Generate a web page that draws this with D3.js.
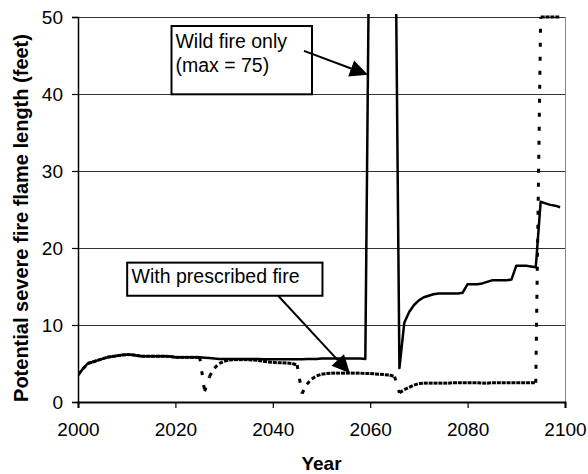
<!DOCTYPE html>
<html>
<head>
<meta charset="utf-8">
<script src="https://cdn.jsdelivr.net/npm/d3@7"></script>
<style>
  body { margin: 0; background: #fff; }
  svg text { font-family: Arial, "Liberation Sans", sans-serif; fill: #000; }
</style>
</head>
<body>
<div id="chart"></div>
<script>
// years on the x axis, one value per year
var years = d3.range(2000, 2100);

var wildFire = [
  3.5, 4.3, 5.0, 5.2, 5.4, 5.6, 5.8, 5.9, 6.0, 6.1,
  6.15, 6.15, 6.05, 5.95, 5.95, 5.95, 5.95, 5.95, 5.95, 5.9,
  5.8, 5.8, 5.8, 5.8, 5.8, 5.8, 5.75, 5.7, 5.65, 5.6,
  5.6, 5.6, 5.6, 5.6, 5.6, 5.6, 5.6, 5.6, 5.55, 5.55,
  5.55, 5.55, 5.55, 5.55, 5.55, 5.55, 5.55, 5.6, 5.6, 5.6,
  5.65, 5.65, 5.65, 5.65, 5.65, 5.65, 5.65, 5.65, 5.65, 5.6,
  75, 75, 75, 75, 75, 75, 4.4, 10.3, 11.7, 12.6,
  13.2, 13.6, 13.8, 14.0, 14.1, 14.1, 14.1, 14.1, 14.1, 14.2,
  15.3, 15.3, 15.3, 15.4, 15.6, 15.8, 15.8, 15.8, 15.8, 15.9,
  17.7, 17.7, 17.7, 17.6, 17.5, 26.0, 25.8, 25.6, 25.5, 25.3
];

var prescribedFire = [
  3.5, 4.3, 5.0, 5.2, 5.4, 5.6, 5.8, 5.9, 6.0, 6.1,
  6.15, 6.15, 6.05, 5.95, 5.95, 5.95, 5.95, 5.95, 5.95, 5.9,
  5.8, 5.8, 5.8, 5.8, 5.8, 5.8, 1.4, 3.3, 4.4, 5.0,
  5.3, 5.45, 5.5, 5.5, 5.5, 5.5, 5.45, 5.4, 5.3, 5.2,
  5.15, 5.1, 5.1, 5.05, 5.0, 4.8, 1.1, 2.3, 3.0, 3.4,
  3.6, 3.7, 3.75, 3.75, 3.75, 3.75, 3.75, 3.75, 3.75, 3.7,
  3.7, 3.65, 3.6, 3.55, 3.5, 3.3, 1.2, 1.6, 1.9, 2.2,
  2.4, 2.45, 2.45, 2.45, 2.45, 2.45, 2.45, 2.5, 2.5, 2.5,
  2.5, 2.5, 2.5, 2.45, 2.45, 2.5, 2.5, 2.5, 2.5, 2.5,
  2.5, 2.5, 2.5, 2.5, 2.5, 50, 50, 50, 50, 50
];

var xTicks = [2000, 2020, 2040, 2060, 2080, 2100];
var yTicks = [0, 10, 20, 30, 40, 50];

let margin = {top: 17, right: 23, bottom: 72, left: 78}
  , width = 588 - margin.left - margin.right
  , height = 474 - margin.top - margin.bottom;

let x = d3.scaleLinear().domain([2000, 2100]).range([0, width]);
let y = d3.scaleLinear().domain([0, 50]).range([height, 0]);

let svg = d3.select('#chart').append('svg')
    .attr('width', 588)
    .attr('height', 474);

let g = svg.append('g')
    .attr('transform', 'translate(' + margin.left + ',' + margin.top + ')');

// gridlines
g.append('g')
    .selectAll('line')
    .data(yTicks.filter(function (d) { return d > 0; }))
    .enter().append('line')
    .attr('x1', 0).attr('x2', width)
    .attr('y1', function (d) { return y(d) + 0.5; })
    .attr('y2', function (d) { return y(d) + 0.5; })
    .attr('stroke', '#333')
    .attr('stroke-width', 1);

// right border of plot area
g.append('line')
    .attr('x1', width + 0.5).attr('x2', width + 0.5)
    .attr('y1', 0).attr('y2', height)
    .attr('stroke', '#888');

// y axis
let yAxis = d3.axisLeft(y).tickValues(yTicks).tickSize(6).tickPadding(9);
let ya = g.append('g').call(yAxis);
ya.select('.domain').attr('stroke', '#000').attr('stroke-width', 1.5);
ya.selectAll('.tick line').attr('stroke', '#000').attr('stroke-width', 1.2);
ya.selectAll('.tick text').style('font-size', '19px');

// x axis
let xAxis = d3.axisBottom(x).tickValues(xTicks).tickFormat(d3.format('d')).tickSize(6).tickPadding(15);
let xa = g.append('g').attr('transform', 'translate(0,' + height + ')').call(xAxis);
xa.select('.domain').attr('stroke', '#000').attr('stroke-width', 2);
xa.selectAll('.tick line').attr('stroke', '#000').attr('stroke-width', 1.2);
xa.selectAll('.tick text').style('font-size', '19px');

// axis titles
svg.append('text')
    .attr('text-anchor', 'middle')
    .attr('x', margin.left + width / 2)
    .attr('y', 470)
    .style('font-size', '19px')
    .style('font-weight', 'bold')
    .text('Year');

svg.append('text')
    .attr('text-anchor', 'middle')
    .attr('transform', 'translate(27.5,218) rotate(-90)')
    .style('font-size', '20px')
    .style('font-weight', 'bold')
    .text('Potential severe fire flame length (feet)');

// series
svg.append('defs').append('clipPath').attr('id', 'plotClip')
  .append('rect')
    .attr('x', 0).attr('y', -3)
    .attr('width', width + 1).attr('height', height + 3);

let series = g.append('g').attr('clip-path', 'url(#plotClip)');

let pfPoints = years.map(function (yr, i) { return [yr, prescribedFire[i]]; });
let wfPoints = years.map(function (yr, i) { return [yr, wildFire[i]]; });

// dashed line, dash pattern restarts on every segment
series.selectAll('.pf-seg')
    .data(d3.pairs(pfPoints))
    .enter().append('line')
    .attr('class', 'pf-seg')
    .attr('x1', function (d) { return x(d[0][0]); })
    .attr('y1', function (d) { return y(d[0][1]); })
    .attr('x2', function (d) { return x(d[1][0]); })
    .attr('y2', function (d) { return y(d[1][1]); })
    .attr('stroke', '#000')
    .attr('stroke-width', 3)
    .attr('stroke-dasharray', '4,10');

let line = d3.line()
    .x(function (d) { return x(d[0]); })
    .y(function (d) { return y(d[1]); });

series.append('path')
    .datum(wfPoints)
    .attr('d', line)
    .attr('fill', 'none')
    .attr('stroke', '#000')
    .attr('stroke-width', 2.5)
    .attr('stroke-linejoin', 'round');

// annotations (positions in data units)
let drawArrow = (from, to) => {
    let x1 = x(from[0]), y1 = y(from[1]), x2 = x(to[0]), y2 = y(to[1]);
    let ang = Math.atan2(y2 - y1, x2 - x1);
    let len = 18, half = 8.5;
    let bx = x2 - len * Math.cos(ang), by = y2 - len * Math.sin(ang);
    g.append('line')
        .attr('x1', x1).attr('y1', y1)
        .attr('x2', bx).attr('y2', by)
        .attr('stroke', '#000').attr('stroke-width', 2);
    let p1 = [bx + half * Math.sin(ang), by - half * Math.cos(ang)];
    let p2 = [bx - half * Math.sin(ang), by + half * Math.cos(ang)];
    g.append('path')
        .attr('d', 'M' + x2 + ',' + y2 + 'L' + p1 + 'L' + p2 + 'Z')
        .attr('fill', '#000');
};

let drawBox = (x1, x2, top, bottom, lines, textX, baselines) => {
    g.append('rect')
        .attr('x', x(x1)).attr('y', y(top))
        .attr('width', x(x2) - x(x1))
        .attr('height', y(bottom) - y(top))
        .attr('fill', '#fff')
        .attr('stroke', '#000')
        .attr('stroke-width', 2);
    lines.forEach((t, i) => {
        g.append('text')
            .attr('x', x(textX))
            .attr('y', y(baselines[i]))
            .style('font-size', '19.5px')
            .text(t);
    });
};

drawBox(2019.2, 2048.05, 48.83, 39.96, ['Wild fire only', '(max = 75)'], 2020.0, [45.97, 42.86]);
drawArrow([2046.4, 45.6], [2059.55, 42.5]);

drawBox(2010.1, 2050.2, 18.1, 13.8, ['With prescribed fire'], 2011.0, [15.39]);
drawArrow([2041.1, 13.8], [2055.85, 3.73]);
</script>
</body>
</html>
